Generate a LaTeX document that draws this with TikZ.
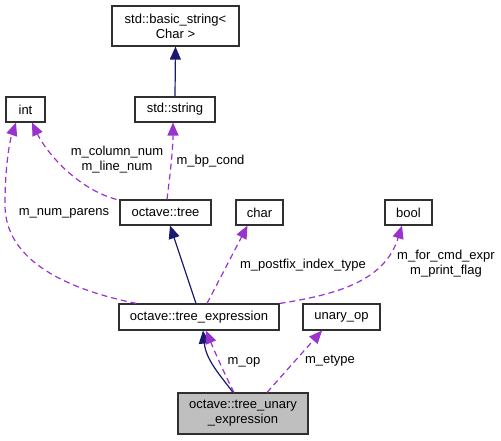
\documentclass[tikz,border=0pt]{standalone}
\usepackage{fontspec}
\setmainfont{Liberation Sans}
\usetikzlibrary{arrows.meta}
\definecolor{navyedge}{HTML}{191970}
\definecolor{purpedge}{HTML}{9A32CD}
\definecolor{boxline}{HTML}{303030}
\definecolor{grayfill}{HTML}{BFBFBF}
\tikzset{
  box/.style={draw=boxline, line width=1.1pt, fill=white, inner sep=0pt, align=center,
              font=\fontsize{13}{15}\selectfont},
  lbl/.style={inner sep=0pt, align=center, font=\fontsize{13}{15}\selectfont},
  inh/.style={draw=navyedge, line width=1.2pt, -{Triangle[length=13pt,width=11pt]}},
  usage/.style={draw=purpedge, line width=1.2pt, dash pattern=on 6pt off 4pt,
              -{Triangle[length=13pt,width=11pt,fill=purpedge]}}
}
\begin{document}
\begin{tikzpicture}[x=1pt,y=-1pt]
\useasboundingbox (0,0) rectangle (501,440);
% nodes
\node[box, minimum width=127pt, minimum height=40pt] (bs) at (175.5,26) {std::basic\_string<\\Char >};
\node[box, minimum width=39pt, minimum height=25pt] (int) at (25.5,109.5) {int};
\node[box, minimum width=80pt, minimum height=25pt] (str) at (175,109.5) {std::string};
\node[box, minimum width=91pt, minimum height=25pt] (tree) at (165.5,212.5) {octave::tree};
\node[box, minimum width=47pt, minimum height=25pt] (char) at (259.5,212.5) {char};
\node[box, minimum width=47pt, minimum height=25pt] (bool) at (408.5,212.5) {bool};
\node[box, minimum width=160pt, minimum height=26pt] (te) at (199,317) {octave::tree\_expression};
\node[box, minimum width=77pt, minimum height=26pt] (uop) at (341.5,317) {unary\_op};
\node[box, fill=grayfill, minimum width=130pt, minimum height=41pt] (tue) at (243,413.5) {octave::tree\_unary\\\_expression};
% edges
\draw[inh] (str.north) -- (bs.south);
\draw[usage] ([xshift=1.5pt]tree.north) .. controls (170,175) and (173,150) .. ([xshift=-2pt]str.south);
\node[lbl] (lbpc) at (210.5,161) {m\_bp\_cond};
\draw[usage] ([xshift=-3pt]tree.north west) .. controls (75,188) and (45,150) .. ([xshift=6.5pt]int.south);
\node[lbl] (lcol) at (117,160) {m\_column\_num\\m\_line\_num};
\draw[usage] ([xshift=18pt]te.north west) .. controls (70,290) and (5,262) .. (5,205) .. controls (5,165) and (10,140) .. ([xshift=-9.5pt]int.south);
\node[lbl] (lnp) at (64,213) {m\_num\_parens};
\draw[inh] ([xshift=-3pt]te.north) -- ([xshift=4.5pt]tree.south);
\draw[usage] ([xshift=8pt]te.north) -- ([xshift=-12pt]char.south);
\node[lbl] (lpit) at (303,265) {m\_postfix\_index\_type};
\draw[usage] (te.north east) .. controls (340,294) and (385,280) .. ([xshift=-6.5pt]bool.south);
\node[lbl] (lfor) at (446,264) {m\_for\_cmd\_expr\\m\_print\_flag};
\draw[inh] ([xshift=-10pt]tue.north) .. controls (220,375) and (206,360) .. ([xshift=4pt]te.south);
\draw[usage] ([xshift=-9pt]tue.north) .. controls (225,375) and (214,350) .. ([xshift=7pt]te.south);
\node[lbl] (lop) at (244,362) {m\_op};
\draw[usage] ([xshift=24pt]tue.north) -- ([xshift=-19.5pt]uop.south);
\node[lbl] (let) at (330,361) {m\_etype};
\end{tikzpicture}
\end{document}
